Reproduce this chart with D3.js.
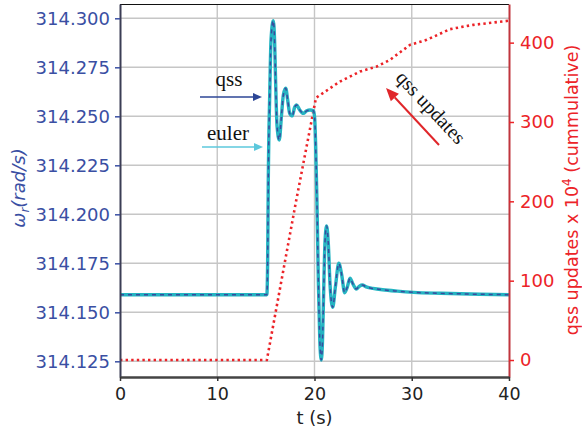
<!DOCTYPE html>
<html>
<head>
<meta charset="utf-8">
<script src="https://cdn.jsdelivr.net/npm/d3@7"></script>
<style>
  html, body { margin: 0; padding: 0; background: #fff; }
  svg { display: block; }
</style>
</head>
<body>
<svg id="chart" width="582" height="433"></svg>
<script>
// ---- data ----
const omegaTime = [0, 15.1, 15.18, 15.25, 15.4, 15.53, 15.76, 15.9, 16.0, 16.15, 16.38, 16.6, 16.8, 17.04, 17.25, 17.45, 17.72, 17.95, 18.17, 18.45, 18.85, 19.2, 19.54, 19.9, 20.02, 20.12, 20.25, 20.4, 20.55, 20.7, 20.82, 20.95, 21.08, 21.25, 21.42, 21.6, 21.87, 22.15, 22.5, 22.8, 23.1, 23.38, 23.65, 23.95, 24.3, 24.6, 24.9, 25.4, 26.0, 27, 28.5, 30.2, 33, 37, 40];
const omegaEuler = [314.159, 314.159, 314.175, 314.218, 314.262, 314.289, 314.2988, 314.288, 314.268, 314.245, 314.2379, 314.25, 314.261, 314.2643, 314.258, 314.2515, 314.2502, 314.2545, 314.2558, 314.2535, 314.2515, 314.2528, 314.2532, 314.2528, 314.249, 314.235, 314.207, 314.165, 314.135, 314.1257, 314.135, 314.162, 314.186, 314.1941, 314.185, 314.164, 314.1526, 314.163, 314.175, 314.169, 314.160, 314.163, 314.1674, 314.1645, 314.1619, 314.1632, 314.1639, 314.1628, 314.1622, 314.1615, 314.1608, 314.1602, 314.1597, 314.1592, 314.159];
const omegaQss = omegaEuler.slice();
const updTime = [0, 15.1, 18.07, 20.15, 22.62, 24.68, 26.4, 27.76, 29.82, 31.54, 33.93, 36.33, 39.9];
const updValues = [0, 0, 198, 330.4, 351, 363.6, 369.9, 378.3, 397.2, 403.5, 417, 422.4, 427.5];
const xTicks = [0, 10, 20, 30, 40];
const yLeftTicks = [314.125, 314.150, 314.175, 314.200, 314.225, 314.250, 314.275, 314.300];
const yRightTicks = [0, 100, 200, 300, 400];

// ---- layout ----
const L = 120, R = 509, T = 4, B = 377;
const svg = d3.select("#chart");
const x = d3.scaleLinear().domain([0, 40]).range([L, R]);
const yL = d3.scaleLinear().domain([314.1170, 314.3073]).range([B, T]);
const yR = d3.scaleLinear().domain([-21.4, 448.7]).range([B, T]);

const FONT = "'DejaVu Sans', Verdana, sans-serif";
const SERIF = "'Liberation Serif', 'Times New Roman', serif";
const BLUE = "#3a4fa3", RED = "#ec2328";

// gridlines
svg.append("g").selectAll("line").data(yLeftTicks).join("line")
  .attr("x1", L).attr("x2", R).attr("y1", d => yL(d)).attr("y2", d => yL(d))
  .attr("stroke", "#c6c6c6").attr("stroke-width", 1.4);
svg.append("g").selectAll("line").data(xTicks.slice(1, -1)).join("line")
  .attr("y1", T).attr("y2", B).attr("x1", d => x(d)).attr("x2", d => x(d))
  .attr("stroke", "#c6c6c6").attr("stroke-width", 1.4);

// top border
svg.append("line").attr("x1", L).attr("x2", R).attr("y1", T + 0.5).attr("y2", T + 0.5)
  .attr("stroke", "#111").attr("stroke-width", 1.2);

const defs = svg.append("defs");
defs.append("clipPath").attr("id", "clip").append("rect")
  .attr("x", L).attr("y", T).attr("width", R - L).attr("height", B - T);

const plot = svg.append("g").attr("clip-path", "url(#clip)");

// qss updates (right axis)
const updData = updTime.map((t, i) => [t, updValues[i]]);
plot.append("path").datum(updData)
  .attr("fill", "none").attr("stroke", RED).attr("stroke-width", 2.6)
  .attr("stroke-dasharray", "2.4,3.2")
  .attr("d", d3.line().x(d => x(d[0])).y(d => yR(d[1])));

// omega lines
const lineL = d3.line().x(d => x(d[0])).y(d => yL(d[1])).curve(d3.curveMonotoneX);
plot.append("path").datum(omegaTime.map((t, i) => [t, omegaEuler[i]]))
  .attr("fill", "none").attr("stroke", "#25b4c2").attr("stroke-width", 3.4)
  .attr("stroke-linejoin", "round")
  .attr("d", lineL);
plot.append("path").datum(omegaTime.map((t, i) => [t, omegaQss[i]]))
  .attr("fill", "none").attr("stroke", "#3a4a9e").attr("stroke-width", 1.5)
  .attr("stroke-dasharray", "4,4")
  .attr("d", lineL);

// axes
const axL = svg.append("g").attr("transform", `translate(${L},0)`)
  .call(d3.axisLeft(yL).tickValues(yLeftTicks).tickFormat(d3.format(".3f")).tickSize(5).tickPadding(5).tickSizeOuter(0));
axL.select(".domain").attr("stroke", "#3b3d55").attr("stroke-width", 2);
axL.selectAll(".tick line").attr("stroke", BLUE).attr("stroke-width", 1.5);
axL.selectAll("text").attr("fill", BLUE).style("font-family", FONT).style("font-size", "18px");

const axR = svg.append("g").attr("transform", `translate(${R},0)`)
  .call(d3.axisRight(yR).tickValues(yRightTicks).tickSize(5).tickPadding(6).tickSizeOuter(0));
axR.select(".domain").attr("stroke", "#c0353d").attr("stroke-width", 2);
axR.selectAll(".tick line").attr("stroke", RED).attr("stroke-width", 1.5);
axR.selectAll("text").attr("fill", RED).style("font-family", FONT).style("font-size", "18px");

const axB = svg.append("g").attr("transform", `translate(0,${B})`)
  .call(d3.axisBottom(x).tickValues(xTicks).tickSize(4).tickPadding(7).tickSizeOuter(0));
axB.select(".domain").attr("stroke", "#444").attr("stroke-width", 2.4);
axB.selectAll(".tick line").attr("stroke", "#333").attr("stroke-width", 1.5);
axB.selectAll("text").attr("fill", "#222").style("font-family", FONT).style("font-size", "17.5px");

// axis titles
svg.append("text").attr("x", (L + R) / 2).attr("y", 424).attr("text-anchor", "middle")
  .attr("fill", "#222").style("font-family", FONT).style("font-size", "18px").text("t (s)");

const lt = svg.append("text").attr("transform", "translate(25,188) rotate(-90)")
  .attr("text-anchor", "middle").attr("fill", BLUE)
  .style("font-family", FONT).style("font-size", "18px").style("font-style", "italic");
lt.append("tspan").text("ω");
lt.append("tspan").attr("dy", 4).style("font-size", "12px").text("r");
lt.append("tspan").attr("dy", -4).text("(rad/s)");

const rt = svg.append("text").attr("transform", "translate(578,190) rotate(-90)")
  .attr("text-anchor", "middle").attr("fill", RED)
  .style("font-family", FONT).style("font-size", "17.5px");
rt.append("tspan").text("qss updates x 10");
rt.append("tspan").attr("dy", -7).style("font-size", "12px").text("4");
rt.append("tspan").attr("dy", 7).text(" (cummulative)");

// annotations
function arrow(id, color, x1, y1, x2, y2, w, hl, hw) {
  const ang = Math.atan2(y2 - y1, x2 - x1);
  const bx = x2 - hl * Math.cos(ang), by = y2 - hl * Math.sin(ang);
  svg.append("line").attr("x1", x1).attr("y1", y1).attr("x2", bx).attr("y2", by)
    .attr("stroke", color).attr("stroke-width", w);
  const px = -Math.sin(ang) * hw / 2, py = Math.cos(ang) * hw / 2;
  svg.append("path").attr("d", `M${x2},${y2}L${bx + px},${by + py}L${bx - px},${by - py}Z`).attr("fill", color);
}
svg.append("text").attr("x", 229).attr("y", 86).attr("text-anchor", "middle")
  .style("font-family", SERIF).style("font-size", "21px").attr("fill", "#111").text("qss");
arrow("a1", "#2d4696", 200, 97, 262, 97, 1.6, 9, 8);
svg.append("text").attr("x", 228).attr("y", 140).attr("text-anchor", "middle")
  .style("font-family", SERIF).style("font-size", "21px").attr("fill", "#111").text("euler");
arrow("a2", "#5cc8dc", 202, 147, 263, 147, 1.6, 9, 8);

svg.append("text").attr("transform", "translate(426,112) rotate(47)")
  .attr("text-anchor", "middle")
  .style("font-family", SERIF).style("font-size", "20px").attr("fill", "#111").text("qss updates");
arrow("a3", "#e0262a", 439, 145, 386, 88, 2, 13, 11);
</script>
</body>
</html>
